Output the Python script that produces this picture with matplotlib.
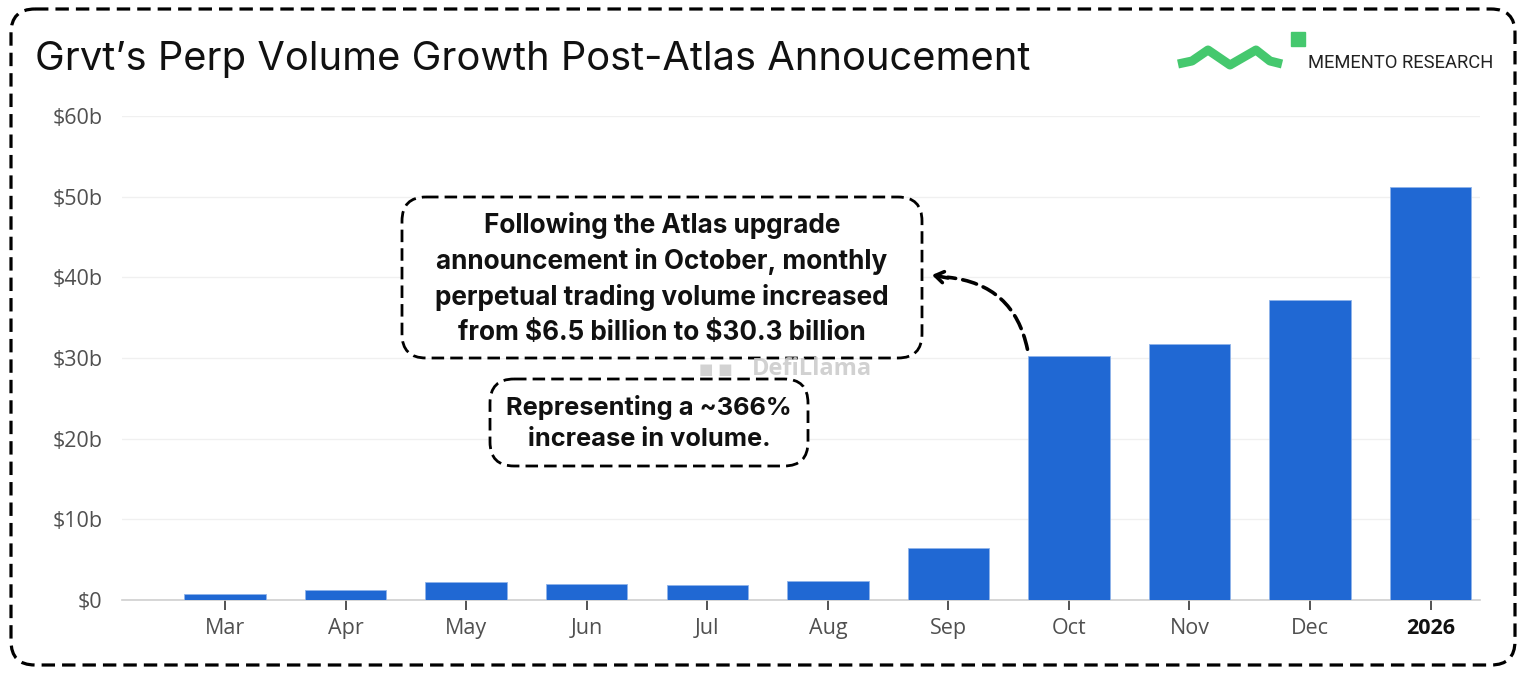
import matplotlib
matplotlib.use("Agg")
import matplotlib.pyplot as plt
from matplotlib.patches import FancyBboxPatch, FancyArrowPatch, Rectangle
from matplotlib.lines import Line2D

plt.rcParams["text.parse_math"] = False

# ---- data ----
categories = ["Mar", "Apr", "May", "Jun", "Jul", "Aug", "Sep", "Oct", "Nov", "Dec", "2026"]
volume_b = [0.8, 1.25, 2.2, 2.0, 1.85, 2.4, 6.5, 30.3, 31.7, 37.2, 51.2]
y_ticks = [0, 10, 20, 30, 40, 50, 60]
y_tick_labels = ["$0", "$10b", "$20b", "$30b", "$40b", "$50b", "$60b"]
title = "Grvt\u2019s Perp Volume Growth Post-Atlas Annoucement"
note1 = ("Following the Atlas upgrade\nannouncement in October, monthly\n"
         "perpetual trading volume increased\nfrom $6.5 billion to $30.3 billion")
note2 = "Representing a ~366%\nincrease in volume."

W, H = 1528, 674
BAR = "#2068d3"
fig = plt.figure(figsize=(W / 100, H / 100), dpi=100)
fig.patch.set_facecolor("white")

def fx(x):
    return x / W

def fy(y):
    return 1 - y / H

# ---- main axes ----
ax = fig.add_axes([fx(122), fy(600), fx(1480) - fx(122), fy(116) - fy(600)])
x = list(range(len(categories)))
ax.bar(x, volume_b, width=0.675, color=BAR, edgecolor="#8fb4ea", linewidth=0.6, zorder=3)
ax.set_xlim(-0.855, 10.41)
ax.set_ylim(0, 60)
ax.set_yticks(y_ticks)
ax.set_yticklabels(y_tick_labels)
ax.set_xticks(x)
ax.set_xticklabels(categories)
for s in ["top", "right", "left"]:
    ax.spines[s].set_visible(False)
ax.spines["bottom"].set_color("#cfcfcf")
ax.spines["bottom"].set_linewidth(1.2)
ax.grid(axis="y", color="#f0f0f0", linewidth=1.0, zorder=0)
ax.tick_params(axis="y", length=0, pad=14, labelsize=15.5, labelcolor="#505050")
ax.tick_params(axis="x", length=7, width=1.3, color="#444444", pad=6, labelsize=15.5,
               labelcolor="#505050")
for lbl in ax.get_yticklabels() + ax.get_xticklabels():
    lbl.set_fontfamily("Open Sans")
xl = ax.get_xticklabels()
xl[-1].set_fontweight("bold")
xl[-1].set_color("#111111")

# ---- overlay in pixel coordinates ----
ov = fig.add_axes([0, 0, 1, 1], zorder=10)
ov.set_xlim(0, W)
ov.set_ylim(H, 0)
ov.axis("off")
ov.patch.set_alpha(0)

# outer dashed border
ov.add_patch(FancyBboxPatch((11, 9), 1504, 656, boxstyle="round,pad=0,rounding_size=24",
                            fill=False, edgecolor="black", linewidth=2.3,
                            linestyle=(0, (4.2, 2.2))))

# title
ov.text(35, 60, title, fontsize=28.7, family="Inter", color="#111111", va="center", ha="left")

# logo
zig_x = [1178, 1192, 1208, 1230, 1256, 1270, 1282]
zig_y = [64, 61, 50, 65, 50, 61, 64]
ov.add_line(Line2D(zig_x, zig_y, color="#45c86e", linewidth=6.5, solid_joinstyle="round",
                   solid_capstyle="butt"))
ov.add_patch(Rectangle((1291, 32), 14, 14, color="#45c86e"))
ov.text(1308, 63, "MEMENTO RESEARCH", fontsize=13.2, family="Roboto", color="#222222",
        va="center", ha="left")

# watermark
ov.text(752, 369, "DefiLlama", fontsize=17, family="Open Sans", fontweight="bold",
        color="#cccccc", va="center", ha="left", alpha=0.9)
ov.text(716, 369, "\u25a0 \u25a0", fontsize=11, family="DejaVu Sans", color="#d2d2d2",
        va="center", ha="center")

# annotation boxes
ov.add_patch(FancyBboxPatch((402, 197), 520, 161, boxstyle="round,pad=0,rounding_size=24",
                            fill=True, facecolor="white", edgecolor="black", linewidth=2.0,
                            linestyle=(0, (4.5, 2.2))))
ov.text(662, 279, note1, fontsize=18.8, family="Inter", fontweight="bold", color="#111111",
        ha="center", va="center", linespacing=1.42)

ov.add_patch(FancyBboxPatch((490, 379), 318, 87, boxstyle="round,pad=0,rounding_size=24",
                            fill=True, facecolor="white", edgecolor="black", linewidth=2.0,
                            linestyle=(0, (4.5, 2.2))))
ov.text(649, 423, note2, fontsize=18.3, family="Inter", fontweight="bold", color="#111111",
        ha="center", va="center", linespacing=1.42)

# curved dashed arrow
ov.add_patch(FancyArrowPatch((1028, 352), (945, 277), arrowstyle="-",
                             connectionstyle="arc3,rad=0.38", linewidth=2.6,
                             linestyle=(0, (4, 2)), color="black"))
ov.add_patch(FancyArrowPatch((948, 278), (932, 275), arrowstyle="->,head_length=6,head_width=4",
                             linewidth=2.6, color="black", shrinkA=0, shrinkB=0))

fig.savefig("out.png", dpi=100, facecolor="white")
